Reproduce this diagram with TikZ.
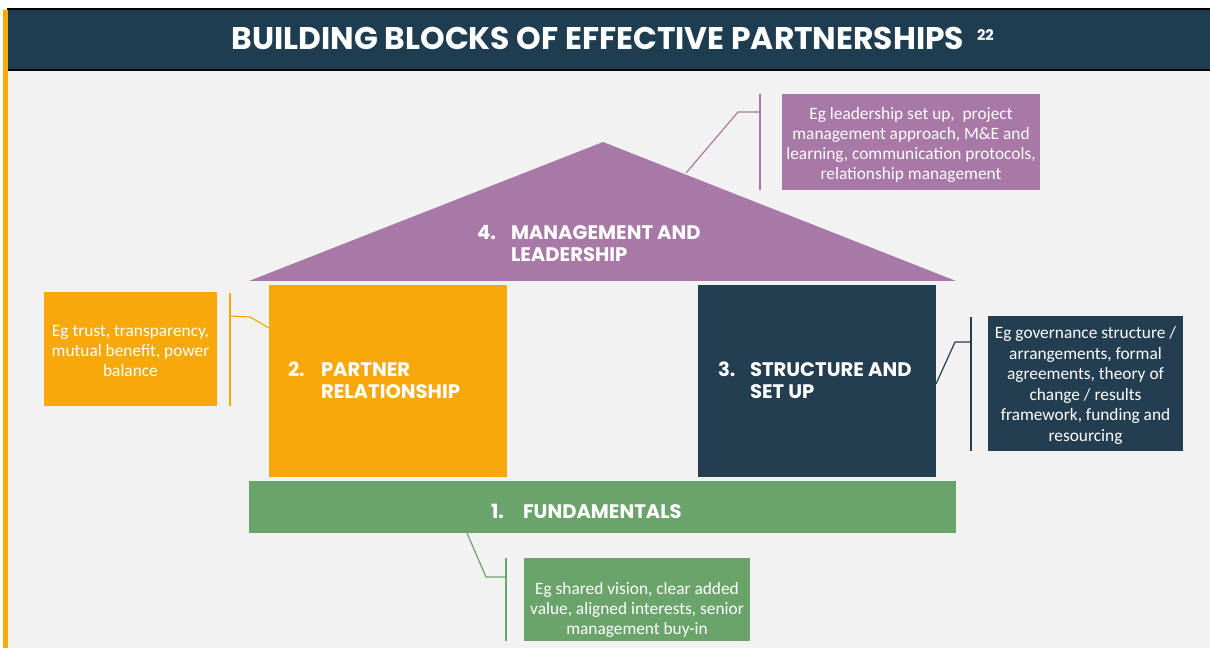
\documentclass[tikz,border=0pt]{standalone}
\usepackage{fontspec}
\setmainfont{Carlito}
\newfontfamily\headfont{Poppins}
\definecolor{titlebg}{HTML}{1F3D51}
\definecolor{bggrey}{HTML}{F2F2F2}
\definecolor{roofc}{HTML}{A878A6}
\definecolor{orangec}{HTML}{F7A90B}
\definecolor{navyc}{HTML}{233D51}
\definecolor{greenc}{HTML}{6BA46B}
\tikzset{
  block/.style={inner sep=0pt, outer sep=0pt},
  callout/.style={inner sep=0pt, outer sep=0pt, text=white, align=center,
    font=\fontsize{13pt}{15pt}\selectfont},
  heading/.style={inner sep=0pt, outer sep=0pt, text=white, anchor=base west,
    font=\headfont\bfseries\fontsize{14.7pt}{16.5pt}\selectfont},
  conn/.style={line width=0.9pt}
}
\begin{document}
\begin{tikzpicture}[x=0.75pt,y=-0.75pt]
\useasboundingbox (0,0) rectangle (1210,648);
\fill[white] (0,0) rectangle (1210,648);
\fill[bggrey] (7,71) rectangle (1210,648);
% title bar
\fill[black] (7,8.5) rectangle (1210,71.5);
\fill[titlebg] (7,10) rectangle (1210,69.5);
\fill[orangec] (3,10) rectangle (7.5,648);
\node[block, text=white, font=\headfont\bfseries\fontsize{23.5pt}{26pt}\selectfont] (title) at (598,50) [anchor=base] {BUILDING BLOCKS OF EFFECTIVE PARTNERSHIPS};
\node[block, text=white, anchor=base west, font=\headfont\bfseries\fontsize{11pt}{12pt}\selectfont] (sup) at (977,41) {22};

% roof
\coordinate (apex) at (603,142);
\coordinate (roofL) at (249,281);
\coordinate (roofR) at (956,281);
\fill[roofc] (apex) -- (roofR) -- (roofL) -- cycle;
\node[heading] (n4) at (477,240) {4.};
\node[heading] (t4) at (511,240) {MANAGEMENT AND};
\node[heading] (t4b) at (511,262) {LEADERSHIP};

% purple callout
\node[block, fill=roofc, minimum width=258*0.75pt, minimum height=96*0.75pt] (c4) at (911,142) {};
\node[callout] (c4t) at (911,144.5) {Eg leadership set up,\ \ project\\management approach, M\&E and\\learning, communication protocols,\\relationship management};
\coordinate (b4t) at (760,94);
\coordinate (b4b) at (760,190);
\coordinate (b4m) at (760,112);
\coordinate (e4) at (738,112);
\coordinate (r4) at (686,173);
\draw[roofc, conn] (b4t) -- (b4b);
\draw[roofc, conn] (r4) -- (e4) -- (b4m);

% partner relationship
\node[block, fill=orangec, minimum width=238*0.75pt, minimum height=192*0.75pt] (b2) at (388,381) {};
\node[heading] (n2) at (288,377) {2.};
\node[heading] (t2) at (321,377) {PARTNER};
\node[heading] (t2b) at (321,399) {RELATIONSHIP};
\node[block, fill=orangec, minimum width=173*0.75pt, minimum height=114*0.75pt] (c2) at (130.5,349) {};
\node[callout] (c2t) at (130.5,351) {Eg trust, transparency,\\mutual benefit, power\\balance};
\coordinate (b2t) at (230,293);
\coordinate (b2b) at (230,406);
\coordinate (b2m) at (230,316);
\coordinate (e2) at (250,317);
\coordinate (r2) at (269,328);
\draw[orangec, conn] (b2t) -- (b2b);
\draw[orangec, conn] (b2m) -- (e2) -- (r2);

% structure and set up
\node[block, fill=navyc, minimum width=238*0.75pt, minimum height=192*0.75pt] (b3) at (817,381) {};
\node[heading] (n3) at (718,377) {3.};
\node[heading] (t3) at (750,377) {STRUCTURE AND};
\node[heading] (t3b) at (750,399) {SET UP};
\node[block, fill=navyc, minimum width=195*0.75pt, minimum height=135*0.75pt] (c3) at (1085.5,383.5) {};
\node[callout, font=\fontsize{13pt}{15.4pt}\selectfont] (c3t) at (1085.5,385.5) {Eg governance structure /\\arrangements, formal\\agreements, theory of\\change / results\\framework, funding and\\resourcing};
\coordinate (b3t) at (971,317);
\coordinate (b3b) at (971,451);
\coordinate (b3m) at (971,342);
\coordinate (e3) at (955,342);
\coordinate (r3) at (936,384);
\draw[navyc, conn] (b3t) -- (b3b);
\draw[navyc, conn] (r3) -- (e3) -- (b3m);

% fundamentals
\node[block, fill=greenc, minimum width=707*0.75pt, minimum height=52*0.75pt] (b1) at (602.5,507) {};
\node[heading] (n1) at (491,518) {1.};
\node[heading] (t1) at (523,518) {FUNDAMENTALS};
\node[block, fill=greenc, minimum width=226*0.75pt, minimum height=83*0.75pt] (c1) at (637,599.5) {};
\node[callout] (c1t) at (637,610) {Eg shared vision, clear added\\value, aligned interests, senior\\management buy-in};
\coordinate (b1t) at (506,558);
\coordinate (b1b) at (506,641);
\coordinate (b1m) at (506,577);
\coordinate (e1) at (486,577);
\coordinate (r1) at (467,533);
\draw[greenc, conn] (b1t) -- (b1b);
\draw[greenc, conn] (r1) -- (e1) -- (b1m);
\end{tikzpicture}
\end{document}
